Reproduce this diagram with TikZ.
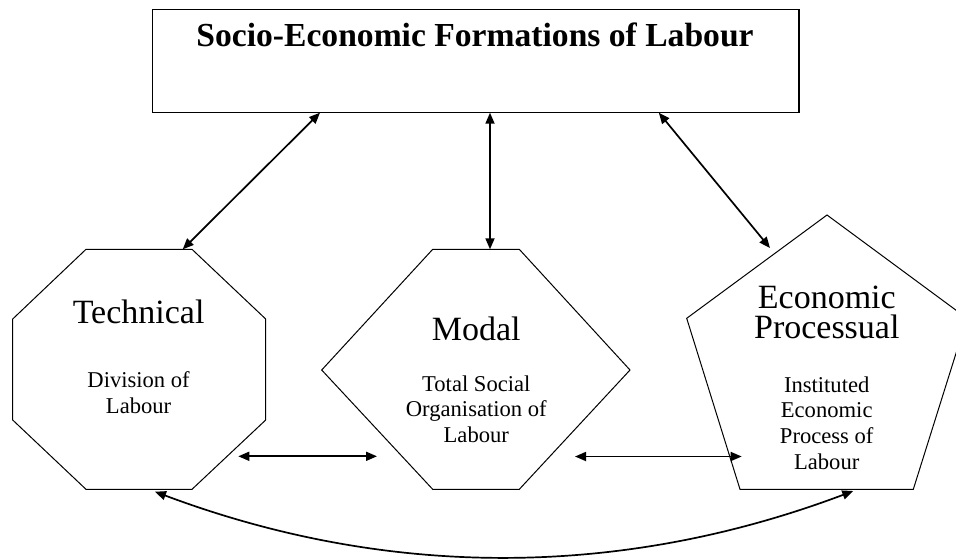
\documentclass[tikz,border=0pt]{standalone}
\usepackage{fontspec}
\setmainfont{Liberation Serif}
\usetikzlibrary{arrows.meta}
\tikzset{
  shapeline/.style={draw=black, line width=1pt, line join=miter},
  boxline/.style={draw=black, line width=1.4pt},
  link/.style={line width=1.7pt, {Triangle[length=11pt,width=9pt]}-{Triangle[length=11pt,width=9pt]}},
  bigtxt/.style={anchor=base, inner sep=0pt, font=\fontsize{34}{30}\selectfont},
  smalltxt/.style={anchor=base, inner sep=0pt, font=\fontsize{22.6}{25}\selectfont},
  titletxt/.style={anchor=base, inner sep=0pt, font=\fontsize{33.6}{36}\selectfont\bfseries},
}
\begin{document}
\begin{tikzpicture}[x=1pt,y=-1pt]
\clip (0,0) rectangle (956,558);
\fill[white] (0,0) rectangle (956,558);

% top box
\draw[boxline] (152.7,9.3) rectangle (799,112.7);
\node[titletxt] (title) at (475,46.7) {Socio-Economic Formations of Labour};

% octagon
\draw[shapeline] (86,249.3) -- (192,249.3) -- (265.7,319) -- (265.7,420) -- (192,489.3) -- (86,489.3) -- (12.7,420) -- (12.7,319) -- cycle;
\node[bigtxt] (tech) at (138.6,323) {Technical};
\node[smalltxt] (tech1) at (138.6,387.7) {Division of};
\node[smalltxt] (tech2) at (138.6,413) {Labour};

% hexagon
\draw[shapeline] (432.7,249.3) -- (519.3,249.3) -- (630,370) -- (519.3,489.3) -- (432.7,489.3) -- (321.7,370) -- cycle;
\node[bigtxt] (modal) at (476.3,340) {Modal};
\node[smalltxt] (modal1) at (476.3,391.7) {Total Social};
\node[smalltxt] (modal2) at (476.3,416.5) {Organisation of};
\node[smalltxt] (modal3) at (476.3,442.7) {Labour};

% pentagon
\draw[shapeline] (827,215) -- (967,318.3) -- (913.3,489.3) -- (740,489.3) -- (686.7,318.3) -- cycle;
\node[bigtxt, align=center] (econ) at (826.8,338) {Economic\\Processual};
\node[smalltxt] (econ1) at (826.7,392.7) {Instituted};
\node[smalltxt] (econ2) at (826.7,417.5) {Economic};
\node[smalltxt] (econ3) at (826.7,443) {Process of};
\node[smalltxt] (econ4) at (826.7,469) {Labour};

% connector end points
\coordinate (r1) at (320,112.7);
\coordinate (o1) at (182.7,249.3);
\coordinate (r2) at (490,112.7);
\coordinate (h1) at (490,249.3);
\coordinate (r3) at (658.8,112.7);
\coordinate (p1) at (770,248);
\coordinate (o2) at (238.3,456.3);
\coordinate (h2) at (377,456.3);
\coordinate (h3) at (575,456.5);
\coordinate (p2) at (741.7,456.5);
\coordinate (o3) at (155,491.7);
\coordinate (p3) at (853.3,491);
\coordinate (c1) at (387.7,579);
\coordinate (c2) at (620.4,578.7);

\draw[link] (r1) -- (o1);
\draw[link] (r2) -- (h1);
\draw[link] (r3) -- (p1);
\draw[link] (o2) -- (h2);
\draw[link] (h3) -- (p2);
\draw[link] (o3) .. controls (c1) and (c2) .. (p3);
\end{tikzpicture}
\end{document}
